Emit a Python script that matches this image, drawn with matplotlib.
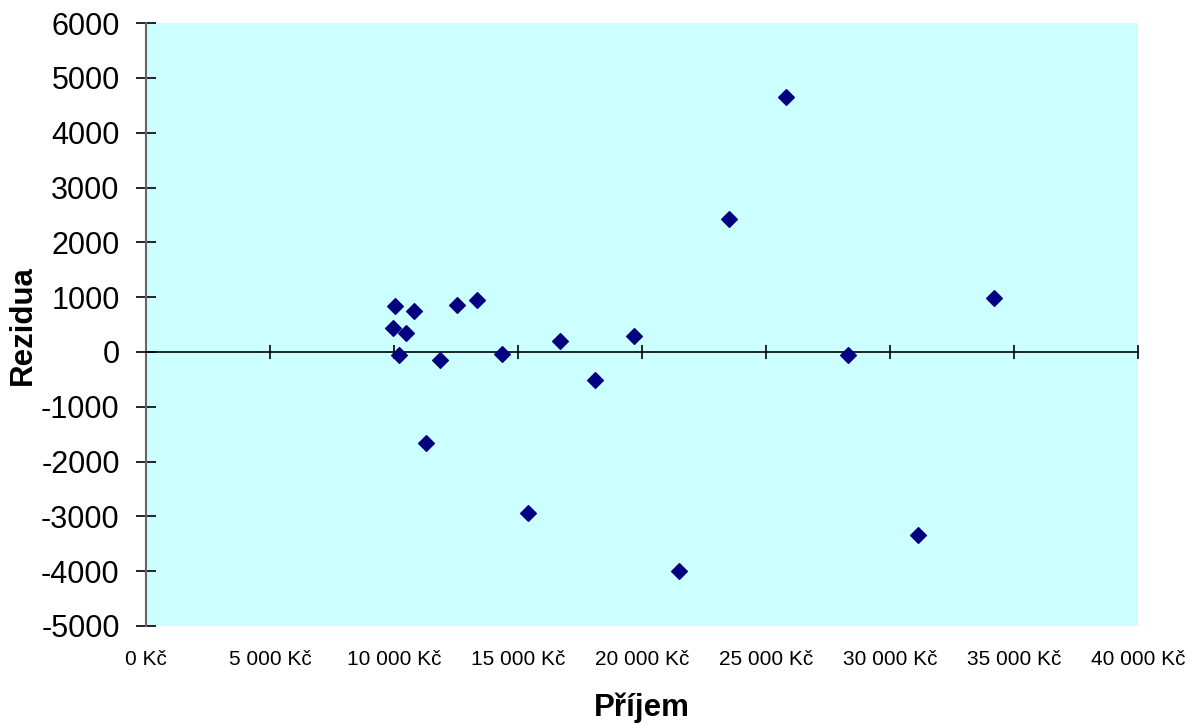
import matplotlib.pyplot as plt
from matplotlib.ticker import FuncFormatter

plt.rcParams['font.family'] = ['Liberation Sans', 'DejaVu Sans']
plt.rcParams['axes.unicode_minus'] = False

# income (Kč) and residuals
prijem = [10040, 10800, 12550, 13360, 9970, 10460, 10200, 11840, 14330, 11280,
          15400, 16700, 18100, 19680, 21500, 23500, 25800, 28300, 31100, 34200]
rezidua = [845, 748, 858, 955, 443, 341, -60, -151, -31, -1655,
           -2938, 200, -511, 292, -3996, 2427, 4653, -55, -3339, 985]

x_ticks = list(range(0, 40001, 5000))
y_ticks = list(range(-5000, 6001, 1000))

fig = plt.figure(figsize=(11.97, 7.25), dpi=100)
ax = fig.add_axes([0.122, 0.1366, 0.829, 0.8314])
ax.set_facecolor('#ccffff')

ax.scatter(prijem, rezidua, marker='D', s=64, color='#000080', zorder=3)

ax.set_xlim(0, 40000)
ax.set_ylim(-5000, 6000)
ax.set_yticks(y_ticks)
ax.set_xticks(x_ticks)

for s in ['top', 'right']:
    ax.spines[s].set_visible(False)
ax.spines['left'].set_color('#666666')
ax.spines['left'].set_linewidth(1.5)
ax.spines['bottom'].set_position(('data', 0))
ax.spines['bottom'].set_color('black')
ax.spines['bottom'].set_linewidth(1.2)

ax.tick_params(axis='y', direction='inout', length=14, width=1.2, color='black',
               labelsize=22, pad=12)
ax.tick_params(axis='x', direction='inout', length=10, width=1.2, color='black',
               labelbottom=False)

sec = ax.secondary_xaxis(0.0)
sec.set_xticks(x_ticks)
sec.xaxis.set_major_formatter(FuncFormatter(lambda v, p: f"{int(v):,}".replace(',', ' ') + ' Kč'))
sec.tick_params(length=0, labelsize=15, pad=17)
sec.spines['bottom'].set_visible(False)

ax.set_ylabel('Rezidua', fontsize=22.5, fontweight='bold')
ax.yaxis.set_label_coords(-0.109, 0.5)
sec.set_xlabel('Příjem', fontsize=22.5, fontweight='bold', labelpad=17)

fig.savefig('out.png', dpi=100)
